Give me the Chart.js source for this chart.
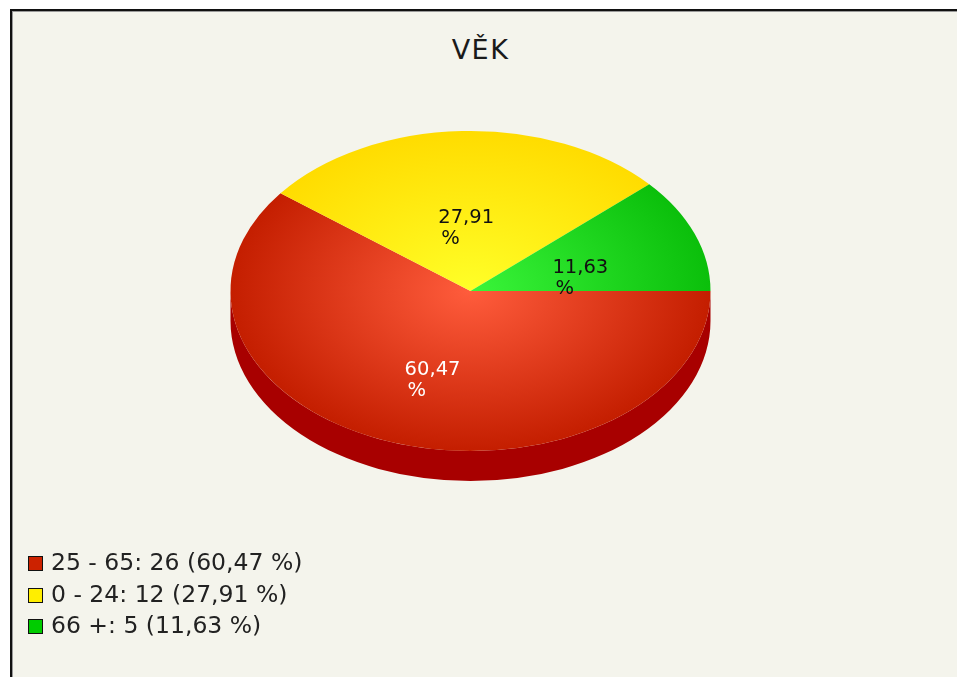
<!DOCTYPE html>
<html lang="cs">
  <head>
    <meta charset="UTF-8" />
    <title>VĚK</title>
    <script src="https://cdn.jsdelivr.net/npm/chart.js"></script>
    <style>
      body { margin: 0; background: #fff; width: 957px; height: 677px; overflow: hidden; position: relative; font-family: "DejaVu Sans", sans-serif; }
      #frame { position: absolute; left: 10px; top: 9px; width: 1000px; height: 1000px; background: #f4f4ec; border-left: 2px solid #111; border-top: 2px solid #111; box-shadow: inset 1px 1px 0 #999; }
      #title { position: absolute; left: 2px; top: 34px; width: 957px; text-align: center; font-size: 27px; letter-spacing: 1.5px; color: #1a1a1a; }
      #pie { position: absolute; left: 0; top: 0; }
      #legend { position: absolute; left: 28px; top: 547px; font-size: 23.5px; color: #222; }
      .row { height: 31.5px; line-height: 31.5px; white-space: nowrap; }
      .box { display: inline-block; width: 13px; height: 13px; border: 1px solid #111; margin-right: 8px; vertical-align: -1px; }
    </style>
  </head>
  <body>
    <div id="frame"></div>
    <div id="title">VĚK</div>
    <canvas id="pie" width="957" height="677"></canvas>
    <div id="legend"></div>

    <script>
      // data
      const categories = ["25 - 65", "0 - 24", "66 +"];
      const counts = [26, 12, 5];
      const percentLabels = ["60,47", "27,91", "11,63"];

      // colours: inner / outer of the face gradient, side, legend box, label text
      const innerColors = ["#ff5c3c", "#ffff28", "#3af53a"];
      const outerColors = ["#c41e00", "#ffdc00", "#0bbf0b"];
      const sideColors = ["#a80000", "#c8a800", "#088a08"];
      const boxColors = ["#cc2200", "#ffee00", "#00cc00"];
      const labelColors = ["#ffffff", "#111111", "#111111"];

      const SQUASH = 0.667; // ellipse height / width
      const DEPTH = 30; // px of pie side

      // legend
      const legend = document.getElementById("legend");
      categories.forEach((c, i) => {
        const row = document.createElement("div");
        row.className = "row";
        row.innerHTML = '<span class="box" style="background:' + boxColors[i] + '"></span>' +
          c + ": " + counts[i] + " (" + percentLabels[i] + " %)";
        legend.appendChild(row);
      });

      function faceColor(context) {
        const chart = context.chart;
        const a = chart.chartArea;
        const i = context.dataIndex;
        if (!a) return outerColors[i];
        const cx = (a.left + a.right) / 2;
        const cy = (a.top + a.bottom) / 2;
        const r = Math.min(a.right - a.left, a.bottom - a.top) / 2;
        const g = chart.ctx.createRadialGradient(cx, cy, 0, cx, cy, r);
        g.addColorStop(0, innerColors[i]);
        g.addColorStop(1, outerColors[i]);
        return g;
      }

      // squash the pie into an ellipse and draw its side
      const pie3d = {
        id: "pie3d",
        beforeDatasetsDraw(chart) {
          const ctx = chart.ctx;
          const arcs = chart.getDatasetMeta(0).data;
          const x = arcs[0].x, y = arcs[0].y;
          ctx.save();
          ctx.translate(x, y);
          ctx.scale(1, SQUASH);
          ctx.translate(-x, -y);
          const d = DEPTH / SQUASH;
          arcs.forEach((arc, i) => {
            const a0 = Math.max(arc.startAngle, 0);
            const a1 = Math.min(arc.endAngle, Math.PI);
            if (a1 <= a0) return;
            const r = arc.outerRadius;
            ctx.beginPath();
            ctx.arc(x, y, r, a0, a1);
            ctx.arc(x, y + d, r, a1, a0, true);
            ctx.closePath();
            ctx.fillStyle = sideColors[i];
            ctx.fill();
          });
        },
        afterDatasetsDraw(chart) {
          const ctx = chart.ctx;
          ctx.restore();
          const arcs = chart.getDatasetMeta(0).data;
          ctx.save();
          ctx.font = "19.5px 'DejaVu Sans'";
          ctx.textBaseline = "middle";
          ctx.textAlign = "left";
          arcs.forEach((arc, i) => {
            // labels sit on an inner ellipse centred half way down the pie depth
            const mid = (arc.startAngle + arc.endAngle) / 2;
            const r = arc.outerRadius * 0.49;
            const px = arc.x + Math.cos(mid) * r;
            const py = arc.y + DEPTH / 2 + Math.sin(mid) * r * SQUASH;
            const w = ctx.measureText(percentLabels[i]).width;
            ctx.fillStyle = labelColors[i];
            ctx.fillText(percentLabels[i], px - w / 2, py - 10);
            ctx.fillText("%", px - w / 2 + 3, py + 11);
          });
          ctx.restore();
        },
      };

      new Chart(document.getElementById("pie"), {
        type: "pie",
        data: {
          labels: categories,
          datasets: [
            {
              data: counts,
              backgroundColor: faceColor,
              borderWidth: 0,
            },
          ],
        },
        options: {
          responsive: false,
          animation: false,
          rotation: 90,
          layout: { padding: { left: 230, right: 246, top: 51, bottom: 146 } },
          plugins: {
            legend: { display: false },
            tooltip: { enabled: false },
          },
        },
        plugins: [pie3d],
      });
    </script>
  </body>
</html>
